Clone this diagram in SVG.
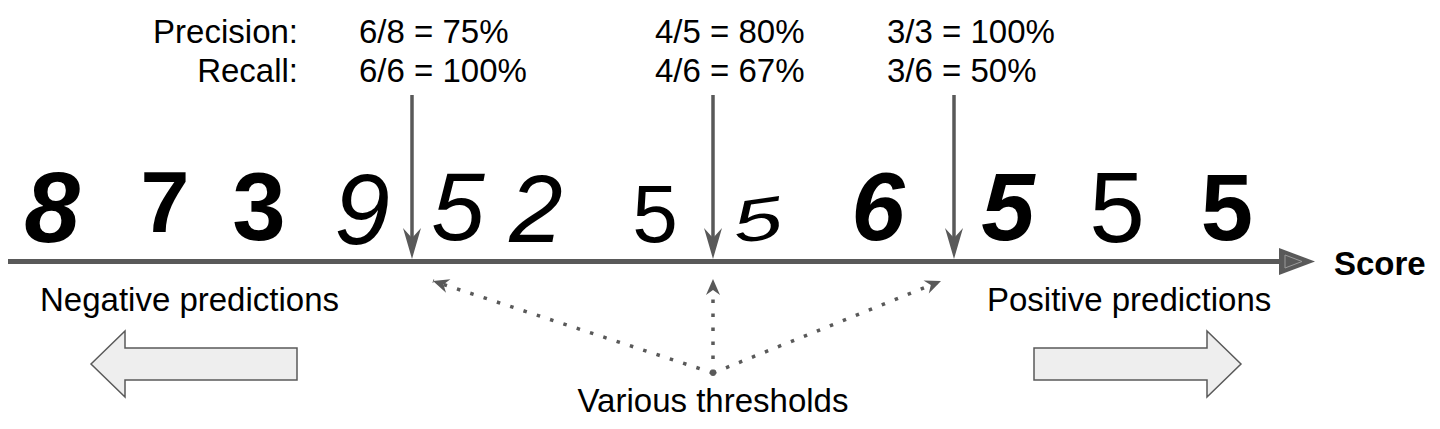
<svg xmlns="http://www.w3.org/2000/svg" width="1440" height="429" viewBox="0 0 1440 429">
<defs>
<style>
.t{font-family:"Liberation Sans",Arial,sans-serif;font-size:33px;fill:#000}
.b{font-weight:bold}
.d{font-family:"Liberation Sans",Arial,sans-serif;fill:#000;text-anchor:middle}
.g{stroke:#595959;fill:none}
.dot{stroke:#595959;stroke-width:3.5;fill:none;stroke-dasharray:3.5 10.5}
.fat{fill:#eeeeee;stroke:#595959;stroke-width:1.5}
</style>
<marker id="barb" viewBox="-17 -8 18 16" refX="0" refY="0" markerWidth="18" markerHeight="16" markerUnits="userSpaceOnUse" orient="auto">
<path d="M0,0 L-16,-7 L-11,0 L-16,7 Z" fill="#595959"/>
</marker>
</defs>
<rect width="1440" height="429" fill="#fff"/>

<g id="labels">
<text class="t" x="298" y="43" text-anchor="end">Precision:</text>
<text class="t" x="298" y="82" text-anchor="end">Recall:</text>
<text class="t" x="359" y="43">6/8 = 75%</text>
<text class="t" x="359" y="82">6/6 = 100%</text>
<text class="t" x="655" y="43">4/5 = 80%</text>
<text class="t" x="655" y="82">4/6 = 67%</text>
<text class="t" x="887" y="43">3/3 = 100%</text>
<text class="t" x="887" y="82">3/6 = 50%</text>
</g>

<g id="digits">
<text class="d" x="52" y="242" font-size="100" font-weight="bold" font-style="italic">8</text>
<text class="d" x="165" y="232" font-size="88" font-weight="bold">7</text>
<text class="d" x="259" y="240" font-size="96" font-weight="bold">3</text>
<text class="d" x="362" y="244" font-size="100" font-style="italic">9</text>
<text class="d" x="458" y="240" font-size="96" font-style="italic">5</text>
<text class="d" x="536" y="242" font-size="96" font-style="italic">2</text>
<text class="d" x="655" y="242" font-size="82">5</text>
<text class="d" x="0" y="0" font-size="66" font-style="italic" transform="translate(760 240) rotate(-8) scale(1.35 0.9)">5</text>
<text class="d" x="878" y="240" font-size="96" font-weight="bold" font-style="italic">6</text>
<text class="d" x="1008" y="240" font-size="96" font-weight="bold" font-style="italic">5</text>
<text class="d" x="1117" y="242" font-size="100">5</text>
<text class="d" x="1227" y="240" font-size="94" font-weight="bold">5</text>
</g>

<g id="score">
<text class="t b" x="1334" y="275">Score</text>
</g>

<g id="negative">
<text class="t" x="40" y="311">Negative predictions</text>
<path class="fat" d="M91,364 L125,331 L125,348 L297,348 L297,380 L125,380 L125,397 Z"/>
</g>

<g id="positive">
<text class="t" x="987" y="311">Positive predictions</text>
<path class="fat" d="M1241,364 L1207,331 L1207,348 L1034,348 L1034,380 L1207,380 L1207,397 Z"/>
</g>

<g id="thresholds-label">
<text class="t" x="713" y="412" text-anchor="middle">Various thresholds</text>
</g>

<g id="connectors">
<line class="g" x1="8" y1="261.5" x2="1282" y2="261.5" stroke-width="5"/>
<path d="M1279,248 L1315,261.5 L1279,275 Z" fill="#595959"/>
<path d="M1285,255 L1302,261.5 L1285,268 Z" fill="none" stroke="#9a9a9a" stroke-width="1"/>

<line class="g" x1="412" y1="95" x2="412" y2="240" stroke-width="3.5"/>
<path d="M412,259 L403,228 L412,238 L421,228 Z" fill="#595959"/>
<line class="g" x1="713" y1="95" x2="713" y2="240" stroke-width="3.5"/>
<path d="M713,259 L704,228 L713,238 L722,228 Z" fill="#595959"/>
<line class="g" x1="954" y1="95" x2="954" y2="240" stroke-width="3.5"/>
<path d="M954,259 L945,228 L954,238 L963,228 Z" fill="#595959"/>

<line class="dot" x1="713" y1="373" x2="433" y2="281" marker-end="url(#barb)"/>
<line class="dot" x1="713" y1="373" x2="713" y2="279" marker-end="url(#barb)"/>
<line class="dot" x1="713" y1="373" x2="941" y2="281" marker-end="url(#barb)"/>
<circle cx="713" cy="373" r="3" fill="#595959"/>
</g>
</svg>
